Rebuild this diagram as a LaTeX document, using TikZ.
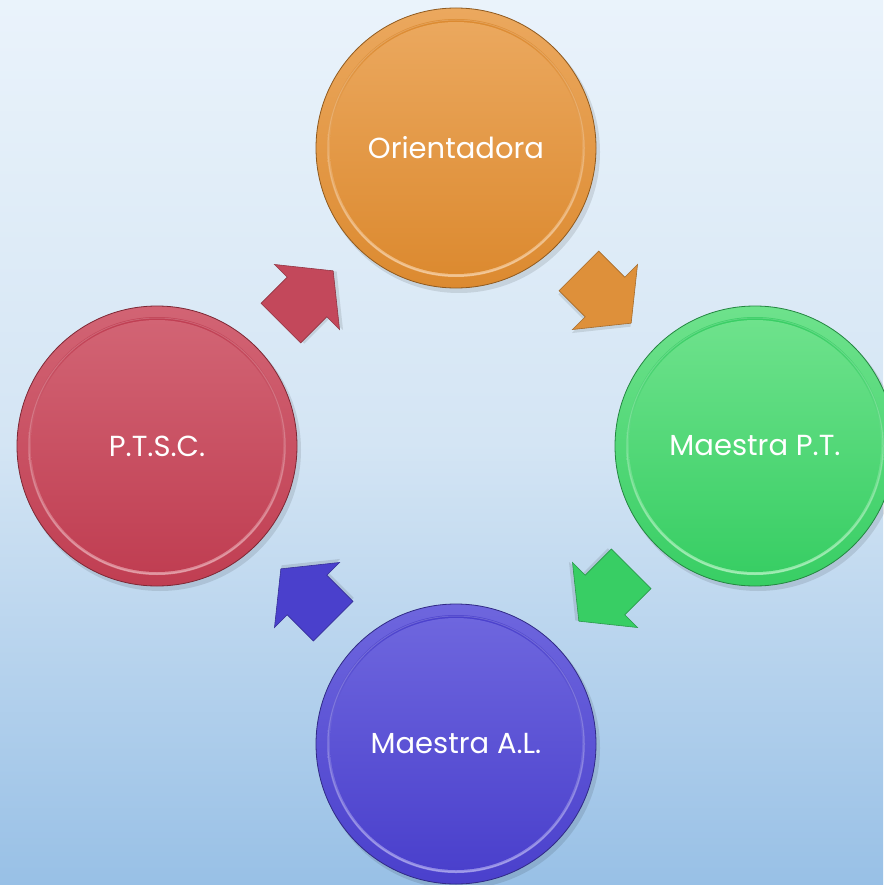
\documentclass[tikz,border=0pt]{standalone}
\usepackage{fontspec}
\setmainfont{Poppins}
\definecolor{bgtop}{HTML}{EAF3FB}
\definecolor{bgmid}{HTML}{D4E5F4}
\definecolor{bgbot}{HTML}{98C0E6}
\definecolor{orA}{HTML}{EBA85E}
\definecolor{orB}{HTML}{DC8A30}
\definecolor{grA}{HTML}{6EE28C}
\definecolor{grB}{HTML}{38CE64}
\definecolor{blA}{HTML}{6E66DE}
\definecolor{blB}{HTML}{4A40CC}
\definecolor{rdA}{HTML}{D26474}
\definecolor{rdB}{HTML}{C03E52}
\tikzset{
  bubbletext/.style={circle, minimum size=280pt, inner sep=0pt, text=white,
    font=\fontsize{29}{33}\selectfont},
  blockarrow/.style={line width=0.6pt, line join=miter},
}
\newcommand\mybubble[5]{%
  % #1 name, #2 position, #3 light colour, #4 dark colour, #5 text
  \fill[black, opacity=0.10] ($(#2)+(3,4)$) circle[radius=141pt];
  \shade[top color=#3, bottom color=#4, draw=#4!65!black, line width=0.8pt]
     (#2) circle[radius=140pt];
  \shade[top color=#4, bottom color=#3!75!white] (#2) circle[radius=129pt];
  \draw[white, opacity=0.18, line width=1pt] (#2) circle[radius=128pt];
  \shade[top color=#3, bottom color=#4] (#2) circle[radius=126pt];
  \node[bubbletext] (#1) at (#2) {#5};
}
\newcommand\mycyclearrow[4]{%
  % #1 name, #2 centre, #3 angle, #4 colour
  \coordinate (#1) at (#2);
  \begin{scope}[shift={(#1)}, rotate=#3]
    \fill[black, opacity=0.10, shift={(2,3)}]
      (-37,-28) -- (0,-28) -- (0,-46) -- (37,0) -- (0,46) -- (0,28) -- (-37,28) -- cycle;
    \filldraw[blockarrow, fill=#4, draw=#4!75!black]
      (-37,-28) -- (0,-28) -- (0,-46) -- (37,0) -- (0,46) -- (0,28) -- (-37,28) -- cycle;
  \end{scope}
}
\usetikzlibrary{calc}
\begin{document}
\begin{tikzpicture}[x=1pt,y=-1pt]
  \useasboundingbox (0,0) rectangle (883,885);
  \shade[top color=bgtop, bottom color=bgbot, middle color=bgmid] (0,0) rectangle (883,885);

  \mybubble{orient}{456,148}{orA}{orB}{Orientadora}
  \mybubble{mpt}{755,446}{grA}{grB}{Maestra P.T.}
  \mybubble{mal}{456,744}{blA}{blB}{Maestra A.L.}
  \mybubble{ptsc}{157,446}{rdA}{rdB}{P.T.S.C.}

  \mycyclearrow{a1}{605,297}{-45}{orB!95!white}
  \mycyclearrow{a2}{605,595}{-135}{grB}
  \mycyclearrow{a3}{307,595}{135}{blB}
  \mycyclearrow{a4}{307,297}{45}{rdB!95!white}
\end{tikzpicture}
\end{document}
